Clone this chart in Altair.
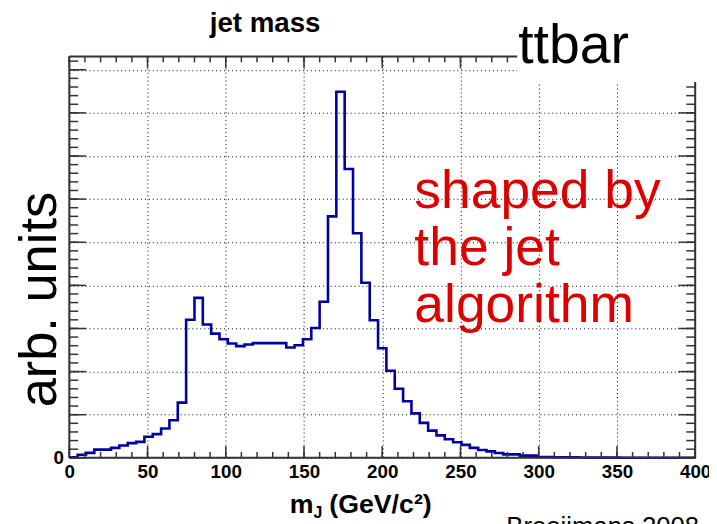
import altair as alt
import pandas as pd

# ---------------- data ----------------
x_range = [0, 400]
y_top = 9.31
counts = [0.015, 0.07, 0.115, 0.19, 0.19, 0.23, 0.285, 0.34, 0.37, 0.49,
          0.55, 0.68, 0.87, 1.28, 3.20, 3.71, 3.09, 2.88, 2.75, 2.65,
          2.59, 2.63, 2.66, 2.66, 2.66, 2.66, 2.56, 2.61, 2.75, 3.01,
          3.62, 5.60, 8.49, 6.70, 5.21, 4.06, 3.19, 2.54, 2.02, 1.60,
          1.31, 1.03, 0.81, 0.63, 0.52, 0.43, 0.36, 0.30, 0.23, 0.18,
          0.15, 0.11, 0.08, 0.08, 0.05, 0.05, 0.02, 0.02, 0.015, 0.015,
          0.01, 0.006, 0.005, 0.005, 0.004, 0.004, 0.003, 0.003, 0.003, 0.002,
          0.002, 0.002, 0.002, 0.001, 0.001]
x_major = [0, 50, 100, 150, 200, 250, 300, 350, 400]
x_minor = list(range(0, 401, 10))
y_major = list(range(0, 10))
y_minor = [round(i * 0.2, 1) for i in range(47)]
title_text = "jet mass"
label_text = "ttbar"
note_lines = "shaped by\nthe jet\nalgorithm"
y_title = "arb. units"
credit_text = "Brooijmans 2008"

# ---------------- layout ----------------
W, H = 633, 406
FONT = "Liberation Sans"
FRAME = "#333333"

n = len(counts)
edges = [x_range[0] + i * (x_range[1] - x_range[0]) / n for i in range(n + 1)]
hist = pd.DataFrame({"m": edges, "v": counts + [counts[-1]]})

xs = alt.Scale(domain=x_range, nice=False, zero=False)
ys = alt.Scale(domain=[0, y_top], nice=False)

hist_layer = alt.Chart(hist).mark_line(
    interpolate="step-after", color="#0000a0", strokeWidth=2.6
).encode(
    x=alt.X("m:Q", scale=xs, axis=alt.Axis(
        values=x_major, grid=True, gridDash=[1, 3], gridColor="black", gridOpacity=1,
        gridWidth=1, ticks=False, domain=False, labelFont=FONT, labelFontSize=19,
        labelFontWeight="bold", labelColor="black", labelPadding=5, labelFlush=False,
        labelOverlap=False, title=None)),
    y=alt.Y("v:Q", scale=ys, axis=alt.Axis(
        values=y_major, grid=True, gridDash=[1, 3], gridColor="black", gridOpacity=1,
        gridWidth=1, ticks=False, domain=False, labelFont=FONT, labelFontSize=19,
        labelFontWeight="bold", labelColor="black", labelPadding=6,
        labelExpr="datum.value == 0 ? '0' : ''", title=None)),
)

one = pd.DataFrame({"k": [0]})


def xticks(vals, y0, y1):
    return alt.Chart(pd.DataFrame({"x": vals})).mark_rule(color=FRAME, strokeWidth=1.5).encode(
        x=alt.X("x:Q", scale=xs), y=alt.value(y0), y2=alt.value(y1))


def yticks(vals, x0, x1):
    return alt.Chart(pd.DataFrame({"y": vals})).mark_rule(color=FRAME, strokeWidth=1.5).encode(
        y=alt.Y("y:Q", scale=ys), x=alt.value(x0), x2=alt.value(x1))


def frame_rule(x0, x1, y0, y1):
    return alt.Chart(one).mark_rule(color=FRAME, strokeWidth=2).encode(
        x=alt.value(x0), x2=alt.value(x1), y=alt.value(y0), y2=alt.value(y1))


ticks = [
    xticks(x_minor, H, H - 6), xticks(x_major, H, H - 12),
    xticks(x_minor, 0, 6), xticks(x_major, 0, 12),
    yticks(y_minor, 0, 9), yticks(y_major, 0, 17),
    yticks(y_minor, W, W - 9), yticks(y_major, W, W - 17),
]
frame = [
    frame_rule(0, W, H, H), frame_rule(0, W, 0, 0),
    frame_rule(0, 0, 0, H), frame_rule(W, W, 0, H),
]

cover = alt.Chart(one).mark_rect(color="white").encode(
    x=alt.value(453), x2=alt.value(700), y=alt.value(-60), y2=alt.value(26))


def text(t, x, y, size, **kw):
    return alt.Chart(pd.DataFrame({"t": [t]})).mark_text(
        font=FONT, fontSize=size, **kw).encode(
        text="t:N", x=alt.value(x), y=alt.value(y))


texts = [
    text(title_text, 198, -25, 28, fontWeight="bold", align="center", baseline="alphabetic"),
    text(label_text, 454, 7, 56, align="left", baseline="alphabetic"),
    text(note_lines, 349, 153, 54, align="left", baseline="alphabetic",
         color="#dd0000", lineBreak="\n", lineHeight=58),
    text(y_title, -13, 246, 53, angle=270, align="center", baseline="alphabetic"),
    text("m", 223, 462, 27, fontWeight="bold", align="left", baseline="alphabetic"),
    text("J", 247, 467, 16, fontWeight="bold", align="left", baseline="alphabetic"),
    text("(GeV/c\u00b2)", 263, 462, 27, fontWeight="bold", align="left", baseline="alphabetic"),
    text(credit_text, 442, 484, 26, align="left", baseline="alphabetic"),
]

chart = alt.layer(hist_layer, *ticks, *frame, cover, *texts).properties(
    width=W, height=H,
    autosize=alt.AutoSizeParams(type="none"),
    padding={"left": 62, "top": 46, "right": 14, "bottom": 64},
).configure_view(stroke=None)

chart.save("out.html", embed_options={"renderer": "svg", "actions": False})
